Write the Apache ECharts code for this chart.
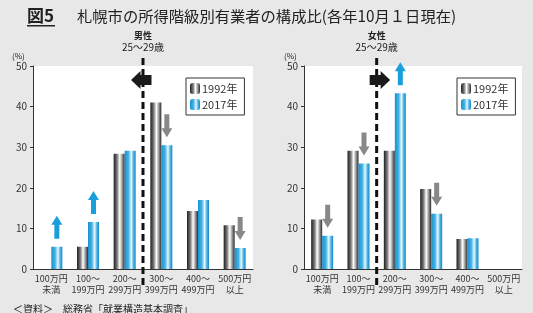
<!DOCTYPE html>
<html>
<head>
<meta charset="utf-8">
<script src="https://cdn.jsdelivr.net/npm/echarts@6/dist/echarts.min.js"></script>
<style>
html,body{margin:0;padding:0;background:#e8e8e8;}
#main{width:533px;height:313px;}
</style>
</head>
<body>
<div id="main"></div>
<script>
// categories (income bands)
var categories = ['100万円\n未満', '100～\n199万円', '200～\n299万円', '300～\n399万円', '400～\n499万円', '500万円\n以上'];

// male 25-29 (%)
var male1992 = [null, 5.5, 28.4, 41.0, 14.3, 10.8];
var male2017 = [5.5, 11.6, 29.1, 30.5, 17.0, 5.2];
// female 25-29 (%)
var female1992 = [12.2, 29.1, 29.1, 19.7, 7.4, null];
var female2017 = [8.2, 26.0, 43.3, 13.6, 7.6, null];

var yTicks = [0, 10, 20, 30, 40, 50];

// arrows above 2017 bars (category index)
var maleUp = [0, 1], maleDown = [3, 5];
var femaleUp = [2], femaleDown = [0, 1, 3];

var font = '"Noto Sans CJK JP", "Noto Sans", sans-serif';

var grayBar = new echarts.graphic.LinearGradient(0, 0, 1, 0, [
  {offset: 0, color: '#1e1e1e'},
  {offset: 0.3, color: '#777'},
  {offset: 0.55, color: '#fff'},
  {offset: 0.8, color: '#8a8a8a'},
  {offset: 1, color: '#2a2a2a'}
]);
var blueBar = new echarts.graphic.LinearGradient(0, 0, 1, 0, [
  {offset: 0, color: '#1891cf'},
  {offset: 0.35, color: '#45b3e6'},
  {offset: 0.6, color: '#eaf8ff'},
  {offset: 0.8, color: '#4fb5e6'},
  {offset: 1, color: '#1488c6'}
]);

function xAx(i) {
  return {
    type: 'category', gridIndex: i, data: categories,
    axisLine: {lineStyle: {color: '#333', width: 1}},
    axisTick: {show: false},
    axisLabel: {color: '#333', fontSize: 9, lineHeight: 11, fontFamily: font, interval: 0, margin: 4}
  };
}
function yAx(i) {
  return {
    type: 'value', gridIndex: i, min: yTicks[0], max: yTicks[yTicks.length - 1], interval: 10,
    axisLine: {show: true, lineStyle: {color: '#333'}},
    axisTick: {show: true, length: 3, lineStyle: {color: '#333'}},
    splitLine: {show: false},
    axisLabel: {color: '#333', fontSize: 10, fontFamily: font, margin: 6}
  };
}
function bar(name, data, i, color) {
  return {
    name: name, type: 'bar', xAxisIndex: i, yAxisIndex: i, data: data,
    barWidth: 11, barGap: '0%', itemStyle: {color: color}
  };
}
function legend(left) {
  return {
    left: left, top: 78, orient: 'vertical', itemWidth: 10, itemHeight: 11, itemGap: 5,
    borderColor: '#333', borderWidth: 1, backgroundColor: '#fff', padding: [5, 7, 5, 4],
    textStyle: {fontSize: 11, color: '#333', fontFamily: font, padding: [0, 0, 0, -3]},
    data: ['1992年', '2017年']
  };
}

var chart = echarts.init(document.getElementById('main'));
chart.setOption({
  backgroundColor: '#e8e8e8',
  animation: false,
  grid: [
    {left: 33, top: 66, width: 220, height: 203, show: true, backgroundColor: '#fff', borderWidth: 0},
    {left: 304, top: 66, width: 218, height: 203, show: true, backgroundColor: '#fff', borderWidth: 0}
  ],
  legend: [legend(186), legend(457)],
  xAxis: [xAx(0), xAx(1)],
  yAxis: [yAx(0), yAx(1)],
  series: [
    bar('1992年', male1992, 0, grayBar),
    bar('2017年', male2017, 0, blueBar),
    bar('1992年', female1992, 1, grayBar),
    bar('2017年', female2017, 1, blueBar)
  ]
});

// annotations positioned from the axes
function px(gi, cat, val) {
  return chart.convertToPixel({gridIndex: gi}, [cat, val]);
}
var g = [];
function txt(x, y, s, size, weight, align) {
  g.push({type: 'text', x: x, y: y, style: {text: s, fontSize: size, fontWeight: weight || 'normal',
    fill: '#222', fontFamily: font, align: align || 'left', verticalAlign: 'middle', lineHeight: size + 1}});
}
txt(27, 16, '図5', 17, 'bold');
g.push({type: 'rect', shape: {x: 27, y: 25, width: 28, height: 1.5}, style: {fill: '#222'}});
txt(77, 16, '札幌市の所得階級別有業者の構成比(各年10月１日現在)', 15.3, 'normal');
txt(12, 56, '(%)', 8);
txt(284, 56, '(%)', 8);
txt(13, 309, '＜資料＞　総務省「就業構造基本調査」', 10);

function smallArrow(gi, cat, val, up) {
  var p = px(gi, cat, val);
  var x = p[0] + 5.5, bottom = p[1] - 8, top = bottom - 23;
  var col = up ? '#19a0dc' : '#888';
  var pts = up
    ? [[x - 2.5, bottom], [x + 2.5, bottom], [x + 2.5, top + 9], [x + 5.5, top + 9], [x, top], [x - 5.5, top + 9], [x - 2.5, top + 9]]
    : [[x - 2.5, top], [x + 2.5, top], [x + 2.5, bottom - 9], [x + 5.5, bottom - 9], [x, bottom], [x - 5.5, bottom - 9], [x - 2.5, bottom - 9]];
  g.push({type: 'polygon', shape: {points: pts}, style: {fill: col}, z: 10});
}
function divider(gi, leftDir, subtitle) {
  var a = px(gi, 2, 0), b = px(gi, 1, 0), c = px(gi, 3, 0);
  var x = leftDir ? (a[0] + c[0]) / 2 : (a[0] + b[0]) / 2;
  g.push({type: 'line', shape: {x1: x, y1: 58, x2: x, y2: 287},
    style: {stroke: '#111', lineWidth: 3, lineDash: [7, 4]}, z: 9});
  txt(x, 36, subtitle.split('\n')[0], 9, 'bold', 'center');
  txt(x, 47, subtitle.split('\n')[1], 10, 'normal', 'center');
  var cx = leftDir ? x - 1.5 : x + 3, cy = 80, d = leftDir ? -1 : 1;
  var pts = [[cx - 10 * d, cy - 5], [cx + 1 * d, cy - 5], [cx + 1 * d, cy - 9], [cx + 10.5 * d, cy],
    [cx + 1 * d, cy + 9], [cx + 1 * d, cy + 5], [cx - 10 * d, cy + 5]];
  g.push({type: 'polygon', shape: {points: pts}, style: {fill: '#1a1a1a'}, z: 11});
}
divider(0, true, '男性\n25～29歳');
divider(1, false, '女性\n25～29歳');
maleUp.forEach(function (c) { smallArrow(0, c, male2017[c], true); });
maleDown.forEach(function (c) { smallArrow(0, c, male2017[c], false); });
femaleUp.forEach(function (c) { smallArrow(1, c, female2017[c], true); });
femaleDown.forEach(function (c) { smallArrow(1, c, female2017[c], false); });
chart.setOption({graphic: g});
</script>
</body>
</html>
